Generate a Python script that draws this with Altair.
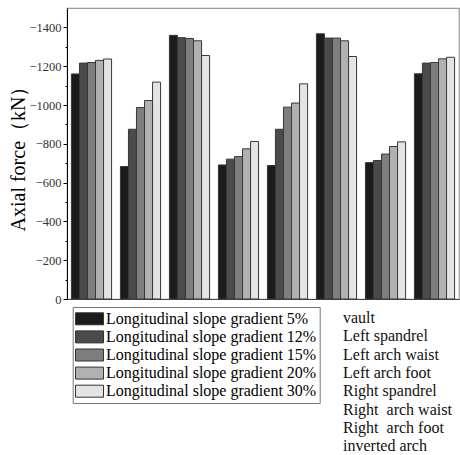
import altair as alt
import pandas as pd

categories = ["vault", "Left spandrel", "Left arch waist", "Left arch foot",
              "Right spandrel", "Right\u00a0 arch waist", "Right\u00a0 arch foot", "inverted arch"]
series = ["Longitudinal slope gradient 5%", "Longitudinal slope gradient 12%",
          "Longitudinal slope gradient 15%", "Longitudinal slope gradient 20%",
          "Longitudinal slope gradient 30%"]
g5 = [-1160, -683, -1359, -691, -688, -1367, -703, -1161]
g12 = [-1216, -875, -1347, -721, -875, -1345, -714, -1216]
g15 = [-1219, -987, -1343, -734, -989, -1345, -747, -1219]
g20 = [-1230, -1023, -1331, -774, -1010, -1331, -786, -1238]
g30 = [-1237, -1118, -1255, -812, -1109, -1250, -810, -1246]
colors = ["#1b1b1b", "#4b4b4b", "#7e7e7e", "#b1b1b1", "#e4e4e4"]
tick_values = list(range(0, -1401, -100))

rows = []
for s, vals in zip(series, [g5, g12, g15, g20, g30]):
    for c, v in zip(categories, vals):
        rows.append({"part": c, "series": s, "force": v})
df = pd.DataFrame(rows)

SERIF = "Liberation Serif"

bars = alt.Chart(df).mark_bar(stroke="#383838", strokeWidth=1).encode(
    x=alt.X("part:N", sort=categories, title=None,
            scale=alt.Scale(paddingInner=0.18, paddingOuter=0.09),
            axis=alt.Axis(labels=False, ticks=False, domainColor="#444", domainWidth=1.2)),
    xOffset=alt.XOffset("series:N", sort=series),
    y=alt.Y("force:Q", title="Axial force（kN）",
            scale=alt.Scale(domain=[0, -1500], nice=False),
            axis=alt.Axis(values=tick_values, format="d",
                          labelExpr="datum.value % 200 === 0 ? datum.label : ''",
                          tickSize={"condition": {"test": "datum.value % 200 === 0", "value": 4}, "value": 2},
                          grid=False, domainColor="#000", tickColor="#000",
                          labelFont=SERIF, labelFontSize=12.5, labelColor="#333",
                          titleFont=SERIF, titleFontSize=20, titleFontWeight="normal",
                          titleColor="#000", titlePadding=0, labelPadding=2)),
    color=alt.Color("series:N", sort=series,
                    scale=alt.Scale(domain=series, range=colors),
                    legend=alt.Legend(orient="none", legendX=5.7, legendY=299, title=None,
                                      symbolType="M-1.75,-0.75H1.75V0.75H-1.75Z",
                                      symbolSize=256, symbolStrokeColor="#333",
                                      symbolStrokeWidth=1, symbolOffset=5,
                                      labelOffset=8, labelFont=SERIF, labelFontSize=16,
                                      labelColor="#000", labelLimit=500, rowPadding=1.1,
                                      padding=3.3, strokeColor="#777", direction="vertical")),
)

cat_df = pd.DataFrame({"label": ["\n".join(categories)]})
cat_text = alt.Chart(cat_df).mark_text(
    align="left", baseline="middle", lineBreak="\n", lineHeight=18.3,
    font=SERIF, fontSize=16, color="#111"
).encode(text="label:N", x=alt.value(276), y=alt.value(310))

chart = alt.layer(bars, cat_text).properties(
    width=392, height=291,
    autosize="none",
    padding={"left": 67, "top": 8, "right": 1, "bottom": 156},
).configure_view(stroke="#999", strokeWidth=1.2)

chart.save("out.html", embed_options={"renderer": "svg", "actions": False})
